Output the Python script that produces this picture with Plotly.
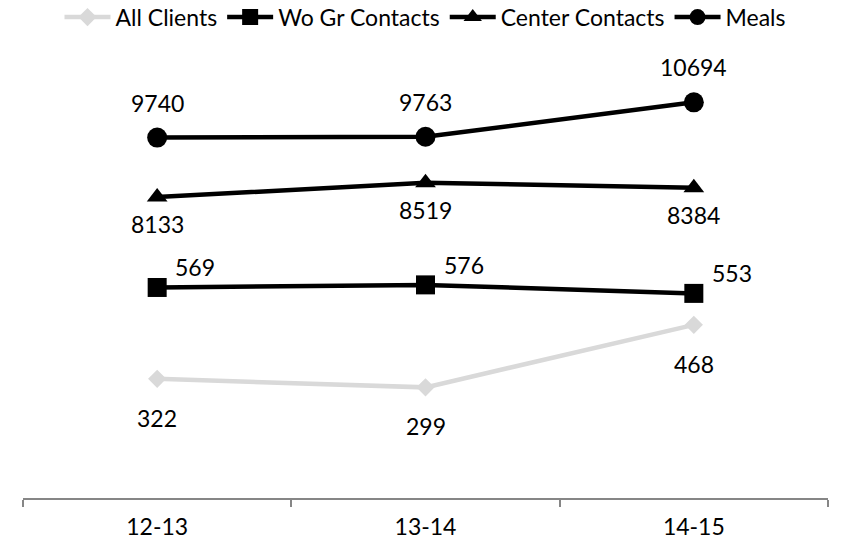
import plotly.graph_objects as go

categories = ["12-13", "13-14", "14-15"]
all_clients = [322, 299, 468]
wo_gr_contacts = [569, 576, 553]
center_contacts = [8133, 8519, 8384]
meals = [9740, 9763, 10694]

FONT = "Lato"
BLACK = "#000000"
GREY = "#D9D9D9"

fig = go.Figure()

fig.add_trace(go.Scatter(
    x=categories, y=all_clients, name="All Clients", mode="lines+markers",
    line=dict(color=GREY, width=4.5),
    marker=dict(symbol="diamond", size=14, color=GREY),
    yaxis="y"))
fig.add_trace(go.Scatter(
    x=categories, y=wo_gr_contacts, name="Wo Gr Contacts", mode="lines+markers",
    line=dict(color=BLACK, width=4.5),
    marker=dict(symbol="square", size=19, color=BLACK),
    yaxis="y"))
fig.add_trace(go.Scatter(
    x=categories, y=center_contacts, name="Center Contacts", mode="lines+markers",
    line=dict(color=BLACK, width=4.5),
    marker=dict(symbol="triangle-up", size=18, color=BLACK),
    yaxis="y2"))
fig.add_trace(go.Scatter(
    x=categories, y=meals, name="Meals", mode="lines+markers",
    line=dict(color=BLACK, width=4.5),
    marker=dict(symbol="circle", size=20, color=BLACK),
    yaxis="y2"))

annotations = []
def add_labels(vals, yref, xshift, yshift):
    for c, v in zip(categories, vals):
        annotations.append(dict(
            x=c, y=v, xref="x", yref=yref, text=str(v), showarrow=False,
            xshift=xshift, yshift=yshift,
            font=dict(family=FONT, size=23, color="#000000")))

add_labels(all_clients, "y", 0, -39)
add_labels(wo_gr_contacts, "y", 38, 20)
add_labels(center_contacts, "y2", 0, -27)
add_labels(meals, "y2", 0, 35)

fig.update_layout(
    width=854, height=544,
    margin=dict(l=23, r=26, t=54, b=46, autoexpand=False),
    paper_bgcolor="white", plot_bgcolor="white",
    font=dict(family=FONT, size=23, color="#000000"),
    showlegend=True,
    legend=dict(orientation="h", x=0.5, xanchor="center", y=1.083, yanchor="middle",
                font=dict(family=FONT, size=23), itemwidth=46,
                bgcolor="rgba(0,0,0,0)", tracegroupgap=0),
    xaxis=dict(type="category", range=[-0.5, 2.5], showgrid=False,
               showline=True, linecolor="#868686", linewidth=1.5,
               ticks="outside", tickson="boundaries", ticklen=7,
               tickcolor="#868686", tickwidth=1.5,
               tickfont=dict(family=FONT, size=23), ticklabelstandoff=8),
    yaxis=dict(range=[0, 1200], visible=False),
    yaxis2=dict(range=[0, 12000], visible=False, overlaying="y", side="right"),
    annotations=annotations,
)

fig.write_html(
    "out.html",
    config={"displayModeBar": False},
    post_script="document.body.style.margin='0';document.body.style.padding='0';"
                "document.body.style.overflow='hidden';",
)
